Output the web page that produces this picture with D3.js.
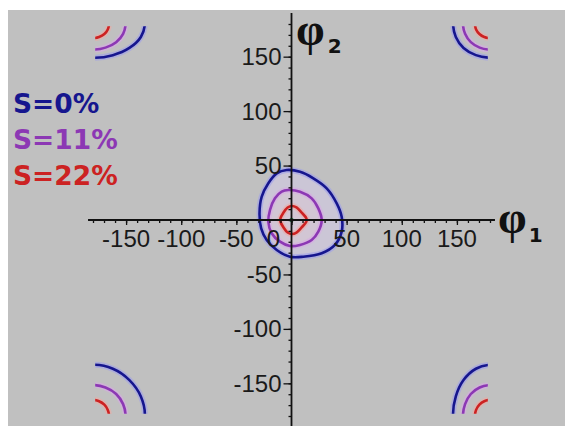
<!DOCTYPE html>
<html><head><meta charset="utf-8">
<script src="https://cdn.jsdelivr.net/npm/d3@7"></script>
<style>html,body{margin:0;padding:0;background:#fff;}svg{display:block}</style>
</head><body>
<svg id="c" width="565" height="426"></svg>
<script>
// ---- data ----
const xTickLabels = [-150, -100, -50, 0, 50, 100, 150];
const yTickLabels = [-150, -100, -50, 50, 100, 150];
const minorTicks = [-180,-170,-160,-150,-140,-130,-120,-110,-100,-90,-80,-70,-60,-50,-40,-30,-20,-10,0,10,20,30,40,50,60,70,80,90,100,110,120,130,140,150,160,170,180];
const legendLabels = ["S=0%", "S=11%", "S=22%"];
const seriesColors = ["#16168e", "#8c38b4", "#cc2222"];
const haloColors = ["#9a9aee", "#d8a8e8", "#f0a8a0"];

// central well contours [phi1, phi2]
const centerS0 = [[-4.4,45.9],[7.7,44.3],[19.8,38.3],[31.9,29.1],[41,15.3],[45.5,3],[45.5,-10.7],[39.4,-22.9],[27.4,-30.6],[10.7,-33.7],[-1.4,-33.7],[-13.4,-27.5],[-22.5,-18.3],[-27.5,-7.6],[-29,6.1],[-27,21.4],[-21,33.7],[-13.4,42.8]];
const centerS11 = [[-2.9,27.5],[7.7,26],[18.3,19.9],[24.3,10.7],[27.4,0],[24.3,-10.7],[18.3,-18.3],[7.7,-22.9],[-1.4,-23.9],[-10.4,-19.9],[-18,-12.2],[-21,-1.6],[-19.5,9.2],[-15,19.9],[-8.9,26]];
const centerS22 = [[0.5,12.8],[4.5,11.5],[9,7],[13.5,1.5],[13.5,-1.5],[9,-7],[4.5,-11.5],[0.5,-12.8],[-3.5,-11.5],[-7.5,-6.5],[-10,-1.5],[-10,1.5],[-7.5,6.5],[-3.5,11.5]];

// corner well (periodic, around phi1 = phi2 = 180)
const cornerS0 = [[227,180],[223.4,198],[213,213],[198,223.4],[180,227],[167.2,223.4],[156,213],[149,198],[146.5,180],[149,168.1],[156,158],[167.2,151.4],[180,149],[198,151.4],[213,158],[223.4,168.1]];
const cornerS11 = [[209.5,180],[207.3,190.9],[201,200.2],[191.3,206.2],[180,208.4],[170.6,206.2],[162.6,200.2],[157.4,190.9],[155.5,180],[157.4,171],[162.6,163.3],[170.6,158.3],[180,156.5],[191.3,158.3],[201,163.3],[207.3,171]];
const cornerS22 = [[194.5,180],[193.4,185.6],[190.3,190.4],[185.5,193.6],[180,194.7],[174.8,193.6],[170.4,190.4],[167.4,185.6],[166.4,180],[167.4,175],[170.4,170.8],[174.8,168],[180,167],[185.5,168],[190.3,170.8],[193.4,175]];

const seriesCenter = [centerS0, centerS11, centerS22];
const seriesCorner = [cornerS0, cornerS11, cornerS22];
const cornerShifts = [[0,0],[-360,0],[0,-360],[-360,-360]];

// ---- drawing ----
const svg = d3.select("#c");
const x = d3.scaleLinear().domain([-180, 180]).range([93, 490]);
const y = d3.scaleLinear().domain([-180, 180]).range([416, 24]);

svg.append("rect").attr("x", 8).attr("y", 10).attr("width", 557).attr("height", 416).attr("fill", "#c0c0c0");

const defs = svg.append("defs");
defs.append("clipPath").attr("id", "dom").append("rect")
  .attr("x", x(-178)).attr("y", y(178)).attr("width", x(178) - x(-178)).attr("height", y(-178) - y(178));

const line = d3.line().x(d => x(d[0])).y(d => y(d[1])).curve(d3.curveCatmullRomClosed.alpha(0.5));

const plot = svg.append("g");
// faint tint inside the central well
plot.append("path").attr("d", line(centerS0)).attr("fill", "#cbc6d6").attr("stroke", "none");
plot.append("path").attr("d", line(centerS11)).attr("fill", "#d2c6d4").attr("stroke", "none");
// corner contours
const cg = plot.append("g").attr("clip-path", "url(#dom)");
seriesCorner.forEach((pts, i) => {
  cornerShifts.forEach(s => {
    const shifted = pts.map(p => [p[0] + s[0], p[1] + s[1]]);
    cg.append("path").attr("d", line(shifted)).attr("fill", "none")
      .attr("stroke", haloColors[i]).attr("stroke-width", 6).attr("stroke-opacity", 0.55);
    cg.append("path").attr("d", line(shifted)).attr("fill", "none")
      .attr("stroke", seriesColors[i]).attr("stroke-width", 2.6);
  });
});
// central contours
seriesCenter.forEach((pts, i) => {
  plot.append("path").attr("d", line(pts)).attr("fill", "none")
    .attr("stroke", haloColors[i]).attr("stroke-width", 6).attr("stroke-opacity", 0.55);
  plot.append("path").attr("d", line(pts)).attr("fill", "none")
    .attr("stroke", seriesColors[i]).attr("stroke-width", 2.6);
});
plot.append("circle").attr("cx", x(0)).attr("cy", y(0)).attr("r", 2.2).attr("fill", "#2a9a5a");

// axes
const axisColor = "#111";
const xa = svg.append("g").attr("transform", `translate(0,${y(0)})`)
  .call(d3.axisBottom(x).tickValues(minorTicks).tickSize(3).tickFormat("").tickSizeOuter(0));
const xb = svg.append("g").attr("transform", `translate(0,${y(0)})`)
  .call(d3.axisBottom(x).tickValues(xTickLabels).tickSize(5).tickFormat("").tickSizeOuter(0));
const ya = svg.append("g").attr("transform", `translate(${x(0)},0)`)
  .call(d3.axisLeft(y).tickValues(minorTicks).tickSize(3).tickFormat("").tickSizeOuter(0));
const yb = svg.append("g").attr("transform", `translate(${x(0)},0)`)
  .call(d3.axisLeft(y).tickValues(yTickLabels).tickSize(8).tickFormat("").tickSizeOuter(0));
[xa, xb, ya, yb].forEach(g => {
  g.select(".domain").remove();
  g.selectAll(".tick line").attr("stroke", axisColor).attr("stroke-width", 1.3);
});
svg.append("line").attr("x1", x(-184.5)).attr("x2", x(184.5)).attr("y1", y(0)).attr("y2", y(0))
  .attr("stroke", axisColor).attr("stroke-width", 1.8);
svg.append("line").attr("x1", x(0)).attr("x2", x(0)).attr("y1", y(190)).attr("y2", y(-191))
  .attr("stroke", axisColor).attr("stroke-width", 1.8);

const tickFont = "'Liberation Sans', Arial, sans-serif";
svg.append("g").selectAll("text").data(xTickLabels).join("text")
  .attr("x", d => d === 0 ? x(0) - 18 : x(d)).attr("y", y(0) + 27)
  .attr("text-anchor", "middle").attr("font-family", tickFont).attr("font-size", 24)
  .attr("fill", "#1a1a1a").text(d => d);
svg.append("g").selectAll("text").data(yTickLabels).join("text")
  .attr("x", x(0) - 10).attr("y", d => y(d) + 8.5)
  .attr("text-anchor", "end").attr("font-family", tickFont).attr("font-size", 24)
  .attr("fill", "#1a1a1a").text(d => d);

// axis titles
const phiFont = "'Liberation Serif', 'DejaVu Serif', serif";
const subFont = "'DejaVu Sans', 'Liberation Sans', sans-serif";
const t2 = svg.append("text").attr("x", 296).attr("y", 45).attr("font-family", phiFont)
  .attr("font-weight", "bold").attr("font-size", 46).attr("fill", "#111");
t2.append("tspan").text("φ");
t2.append("tspan").attr("font-size", 20).attr("font-weight", "bold").attr("dx", 3).attr("dy", 8).attr("font-family", subFont).text("2");
const t1 = svg.append("text").attr("x", 498).attr("y", 233).attr("font-family", phiFont)
  .attr("font-weight", "bold").attr("font-size", 46).attr("fill", "#111");
t1.append("tspan").text("φ");
t1.append("tspan").attr("font-size", 20).attr("font-weight", "bold").attr("dx", 2).attr("dy", 9).attr("font-family", subFont).text("1");

// legend
svg.append("g").selectAll("text").data(legendLabels).join("text")
  .attr("x", 13).attr("y", (d, i) => 113 + i * 36)
  .attr("font-family", "'DejaVu Sans', Verdana, sans-serif").attr("font-weight", "bold")
  .attr("font-size", 26.5).attr("fill", (d, i) => seriesColors[i]).text(d => d);
</script>
</body></html>
